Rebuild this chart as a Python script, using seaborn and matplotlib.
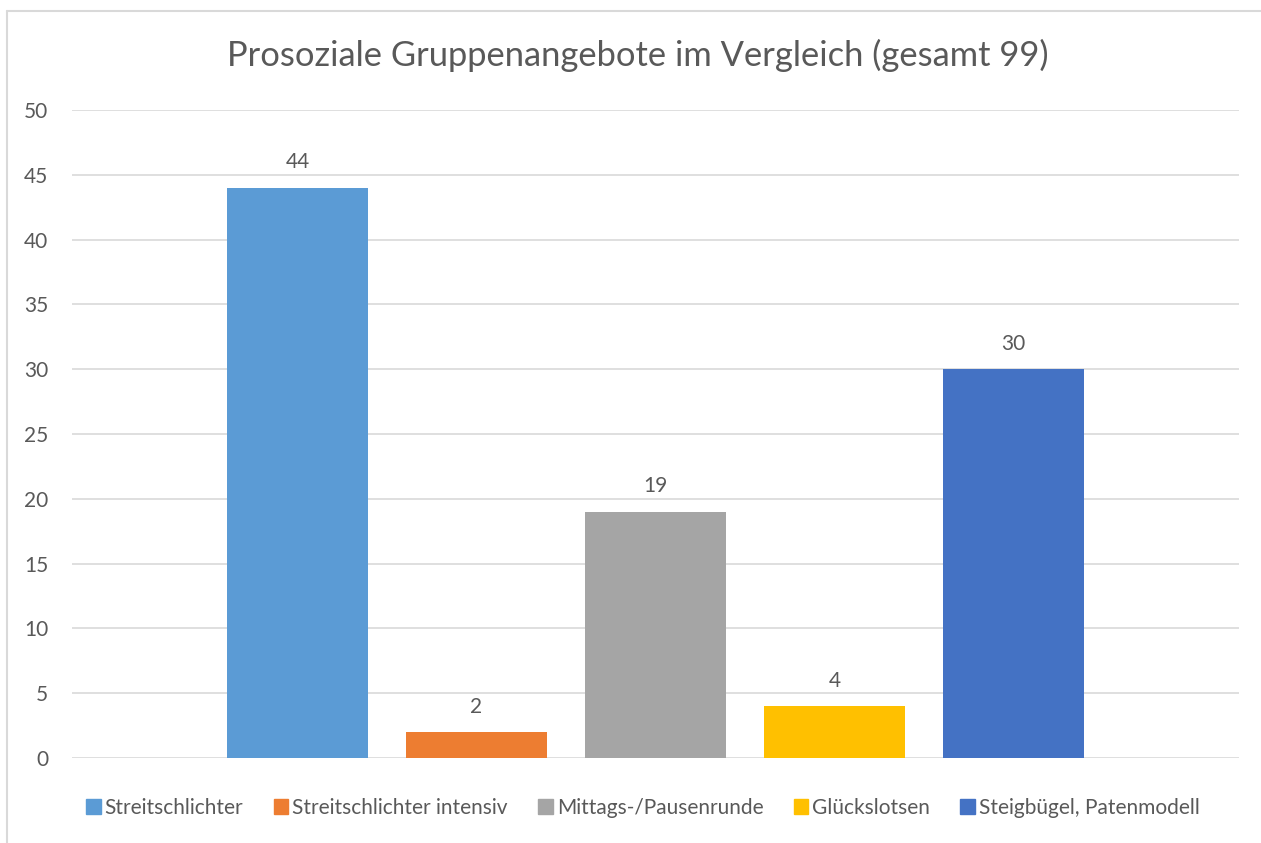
import matplotlib.pyplot as plt
import matplotlib.patches as mpatches
import matplotlib.lines as mlines
import seaborn as sns
import pandas as pd

# Data
categories = ['Streitschlichter', 'Streitschlichter intensiv',
              'Mittags-/Pausenrunde', 'Glückslotsen',
              'Steigbügel, Patenmodell']
values = [44, 2, 19, 4, 30]
colors = ['#5B9BD5', '#ED7D31', '#A5A5A5', '#FFC000', '#4472C4']
title = 'Prosoziale Gruppenangebote im Vergleich (gesamt 99)'

TEXT_COLOR = '#595959'
GRID_COLOR = '#D9D9D9'

sns.set_style('white')
plt.rcParams['font.family'] = ['Lato', 'DejaVu Sans']

df = pd.DataFrame({'label': categories, 'value': values})

fig = plt.figure(figsize=(12.61, 8.43), dpi=100)
ax = fig.add_axes([72/1261, 1-758/843, (1239-72)/1261, (758-110)/843])

sns.barplot(data=df, x='label', y='value', hue='label', order=categories,
            hue_order=categories, palette=colors, width=0.79, dodge=False,
            legend=False, ax=ax, saturation=1, linewidth=0)

for c in ax.containers:
    ax.bar_label(c, padding=11, fontsize=15, color=TEXT_COLOR)

ax.set_ylim(0, 50)
ax.set_xlim(-1.26, 5.26)
ax.set_yticks(range(0, 51, 5))
ax.yaxis.grid(True, color=GRID_COLOR, linewidth=1.2)
ax.set_axisbelow(True)
ax.set_xticks([])
ax.set_xlabel('')
ax.set_ylabel('')
for s in ['top', 'right', 'left', 'bottom']:
    ax.spines[s].set_visible(False)
ax.tick_params(axis='y', length=0, labelsize=15, labelcolor=TEXT_COLOR, pad=17)

fig.text(637.5/1261, 1-55/843, title, ha='center', va='center', fontsize=24.8,
         color=TEXT_COLOR)

# Legend
handles = [mpatches.Patch(color=col, label=lab)
           for col, lab in zip(colors, categories)]
fig.legend(handles=handles, loc='center', bbox_to_anchor=(643/1261, 1-808/843),
           ncol=5, frameon=False, fontsize=15, labelcolor=TEXT_COLOR,
           handlelength=0.7, handleheight=0.7, handletextpad=0.2,
           columnspacing=1.45)

# Chart border (Excel style)
fig.add_artist(mlines.Line2D([7/1261, 7/1261], [0, 1-11/843],
                             color=GRID_COLOR, linewidth=1.5))
fig.add_artist(mlines.Line2D([7/1261, 1], [1-11/843, 1-11/843],
                             color=GRID_COLOR, linewidth=1.5))

plt.savefig('out.png', dpi=100)
plt.close()
